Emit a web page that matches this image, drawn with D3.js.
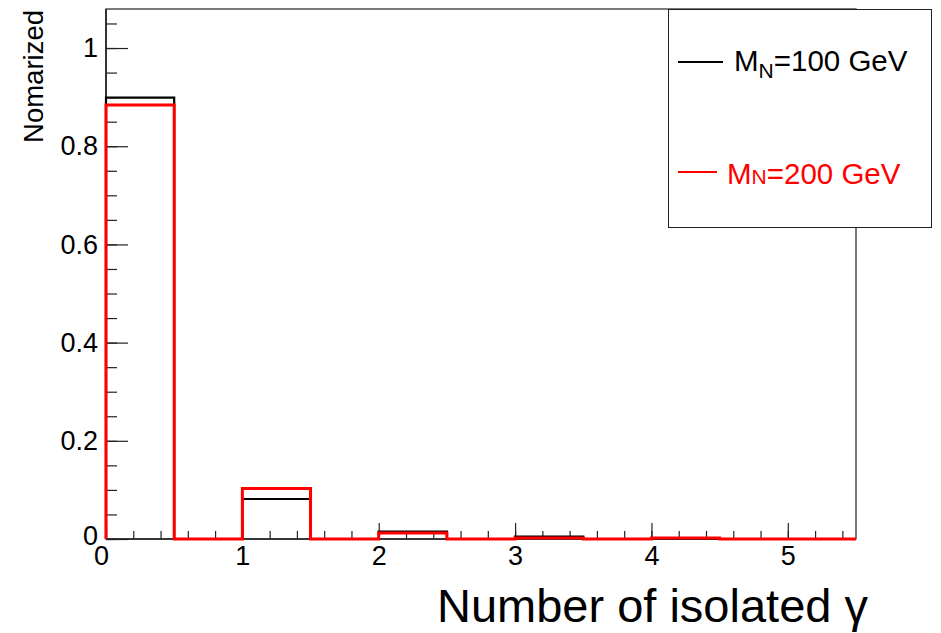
<!DOCTYPE html>
<html>
<head>
<meta charset="utf-8">
<script src="https://cdn.jsdelivr.net/npm/d3@7"></script>
<style>
  body { margin: 0; background: #fff; }
  text { font-family: "Liberation Sans", Arial, Helvetica, sans-serif; }
</style>
</head>
<body>
<div id="chart"></div>
<script>
// histogram bins (width 0.5) from 0 to 5.5
let binEdges = [0, 0.5, 1, 1.5, 2, 2.5, 3, 3.5, 4, 4.5, 5, 5.5];
let mn100 = [0.899, 0, 0.0815, 0, 0.015, 0, 0.005, 0, 0.001, 0, 0];
let mn200 = [0.884, 0, 0.103, 0, 0.012, 0, 0.002, 0, 0.002, 0, 0];
let yMajor = [0, 0.2, 0.4, 0.6, 0.8, 1];
let xMajor = [0, 1, 2, 3, 4, 5];

let svgWidth = 941;
let svgHeight = 633;

let margin = { top: 9, right: 85, bottom: 94, left: 106 };
let width = svgWidth - margin.left - margin.right;
let height = svgHeight - margin.top - margin.bottom;

let svg = d3.select("#chart")
  .append("svg")
  .attr("width", svgWidth)
  .attr("height", svgHeight);

let g = svg.append("g")
  .attr("transform", `translate(${margin.left}, ${margin.top})`);

let x = d3.scaleLinear().domain([0, 5.5]).range([0, width]);
let y = d3.scaleLinear().domain([0, 1.0795]).range([height, 0]);

// frame
g.append("rect")
  .attr("width", width)
  .attr("height", height)
  .attr("fill", "none")
  .attr("stroke", "#222")
  .attr("stroke-width", 1.2);

// minor ticks
let yMinor = d3.range(0, 1.051, 0.05);
let xMinor = d3.range(0, 5.41, 0.2);

g.append("g")
  .call(d3.axisLeft(y).tickValues(yMinor).tickSize(-11).tickFormat(""))
  .call(a => a.select(".domain").remove());

g.append("g")
  .attr("transform", `translate(0, ${height})`)
  .call(d3.axisBottom(x).tickValues(xMinor).tickSize(-8).tickFormat(""))
  .call(a => a.select(".domain").remove());

// major ticks + labels
let yAxis = g.append("g")
  .call(d3.axisLeft(y).tickValues(yMajor).tickSize(-22).tickPadding(8)
    .tickFormat(d => d === 0 ? "0" : d3.format("")(d)));
yAxis.select(".domain").remove();
yAxis.selectAll("text").attr("font-size", 27).attr("fill", "#000")
  .style("font-family", '"Liberation Sans", Arial, sans-serif');
yAxis.selectAll("text").filter(d => d === 0).attr("dy", "0.2em");

let xAxis = g.append("g")
  .attr("transform", `translate(0, ${height})`)
  .call(d3.axisBottom(x).tickValues(xMajor).tickSize(-16).tickPadding(7)
    .tickFormat(d3.format("d")));
xAxis.select(".domain").remove();
xAxis.selectAll("text").attr("font-size", 27).attr("fill", "#000")
  .style("font-family", '"Liberation Sans", Arial, sans-serif');
xAxis.selectAll("text").filter(d => d === 0).attr("dx", -5);

g.selectAll(".tick line").attr("stroke", "#222").attr("stroke-width", 1.2);

// axis lines
g.append("line").attr("x1", 0).attr("x2", 0).attr("y1", 0).attr("y2", height)
  .attr("stroke", "#222").attr("stroke-width", 1.6);
g.append("line").attr("x1", 0).attr("x2", width).attr("y1", height).attr("y2", height)
  .attr("stroke", "#222").attr("stroke-width", 1.6);

// histogram outline
function histPoints(vals) {
  let pts = [[binEdges[0], 0]];
  vals.forEach((v, i) => {
    pts.push([binEdges[i], v]);
    pts.push([binEdges[i + 1], v]);
  });
  pts.push([binEdges[binEdges.length - 1], 0]);
  return pts;
}

let line = d3.line().x(d => x(d[0])).y(d => y(d[1]));

g.append("path")
  .attr("d", line(histPoints(mn100)))
  .attr("fill", "none")
  .attr("stroke", "#000")
  .attr("stroke-width", 2.2);

g.append("path")
  .attr("d", line(histPoints(mn200)))
  .attr("fill", "none")
  .attr("stroke", "#ff0000")
  .attr("stroke-width", 3);

// axis titles
svg.append("text")
  .attr("transform", "translate(43, 10) rotate(-90)")
  .attr("text-anchor", "end")
  .attr("font-size", 27.5)
  .text("Nomarized");

svg.append("text")
  .attr("x", 868)
  .attr("y", 622)
  .attr("text-anchor", "end")
  .attr("font-size", 47)
  .text("Number of isolated γ");

// legend
let leg = svg.append("g");
leg.append("rect")
  .attr("x", 668.5).attr("y", 9.5)
  .attr("width", 263).attr("height", 218)
  .attr("fill", "#fff")
  .attr("stroke", "#222")
  .attr("stroke-width", 1);

leg.append("line").attr("x1", 678).attr("x2", 723).attr("y1", 62).attr("y2", 62)
  .attr("stroke", "#000").attr("stroke-width", 2.2);
let t1 = leg.append("text").attr("x", 734).attr("y", 71).attr("font-size", 29.5);
t1.append("tspan").text("M");
t1.append("tspan").attr("font-size", 21).attr("dy", 7).text("N");
t1.append("tspan").attr("dy", -7).text("=100 GeV");

leg.append("line").attr("x1", 678).attr("x2", 717).attr("y1", 172).attr("y2", 172)
  .attr("stroke", "#ff0000").attr("stroke-width", 2.2);
let t2 = leg.append("text").attr("x", 727).attr("y", 184).attr("font-size", 29.5)
  .attr("fill", "#ff0000");
t2.append("tspan").text("M");
t2.append("tspan").attr("font-size", 21).text("N");
t2.append("tspan").text("=200 GeV");
</script>
</body>
</html>
